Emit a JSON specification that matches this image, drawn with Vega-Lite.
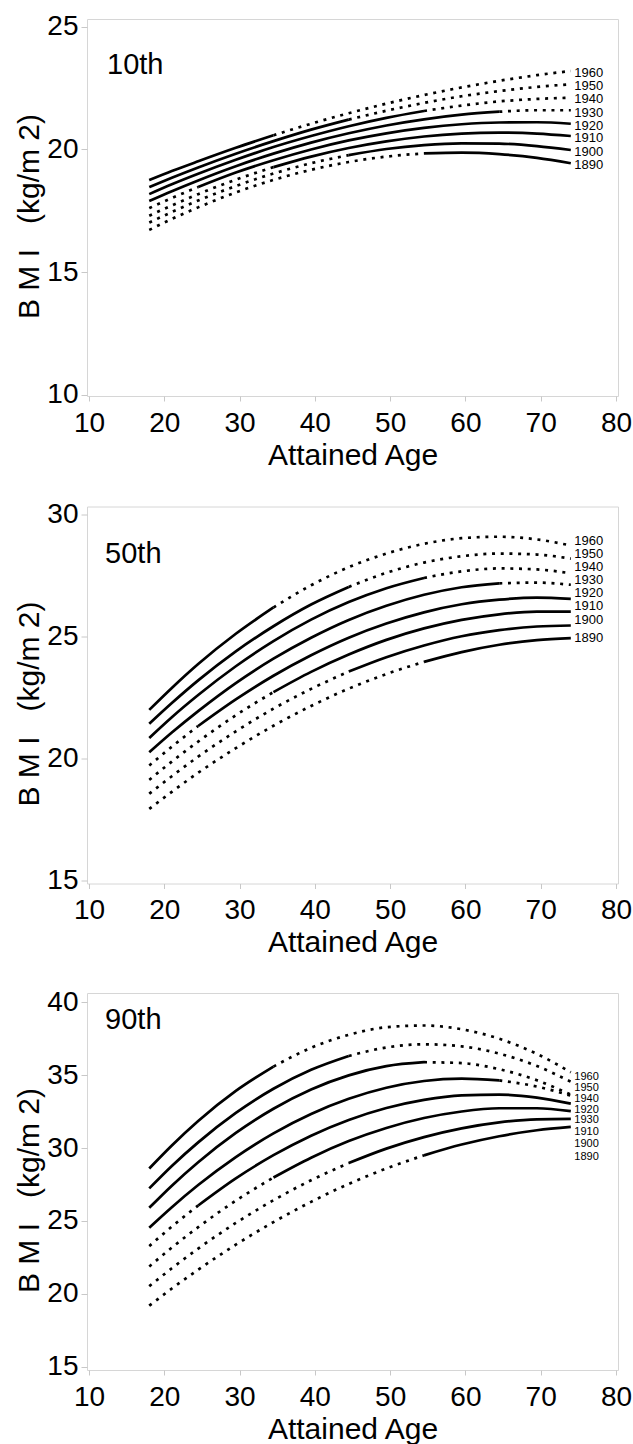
{
"$schema":"https://vega.github.io/schema/vega-lite/v6.json",
"background":"white",
"padding":{"left":14,"top":12,"right":2,"bottom":0},
"spacing":28.5,
"config":{
 "font":"Liberation Sans",
 "view":{"stroke":"#d6d6d6","strokeWidth":1},
 "axis":{"grid":false,"domain":false,"tickColor":"#c8c8c8","labelFontSize":28,"labelColor":"#000","titleFontSize":30,"titleFontWeight":"normal","titleColor":"#000","labelFont":"Liberation Sans","titleFont":"Liberation Sans","labelFlush":false,"labelOverlap":false},
 "axisX":{"tickSize":5,"labelPadding":8,"titlePadding":3},
 "axisY":{"tickSize":6,"labelPadding":3,"titlePadding":2,"titleY":197}
},
"datasets":{
 "curves":[
{"p":"10th","c":1960,"a":18,"v":18.75},{"p":"10th","c":1960,"a":21,"v":19.12},{"p":"10th","c":1960,"a":24.5,"v":19.52},{"p":"10th","c":1960,"a":29.5,"v":20.07},{"p":"10th","c":1960,"a":34.5,"v":20.58},{"p":"10th","c":1960,"a":39.5,"v":21.05},{"p":"10th","c":1960,"a":44.5,"v":21.48},{"p":"10th","c":1960,"a":49.5,"v":21.87},{"p":"10th","c":1960,"a":54.5,"v":22.22},{"p":"10th","c":1960,"a":59.5,"v":22.53},{"p":"10th","c":1960,"a":64.5,"v":22.80},{"p":"10th","c":1960,"a":69.5,"v":23.03},{"p":"10th","c":1960,"a":74,"v":23.20},
{"p":"10th","c":1950,"a":18,"v":18.47},{"p":"10th","c":1950,"a":21,"v":18.85},{"p":"10th","c":1950,"a":24.5,"v":19.27},{"p":"10th","c":1950,"a":29.5,"v":19.83},{"p":"10th","c":1950,"a":34.5,"v":20.34},{"p":"10th","c":1950,"a":39.5,"v":20.81},{"p":"10th","c":1950,"a":44.5,"v":21.22},{"p":"10th","c":1950,"a":49.5,"v":21.58},{"p":"10th","c":1950,"a":54.5,"v":21.90},{"p":"10th","c":1950,"a":59.5,"v":22.17},{"p":"10th","c":1950,"a":64.5,"v":22.38},{"p":"10th","c":1950,"a":69.5,"v":22.55},{"p":"10th","c":1950,"a":74,"v":22.66},
{"p":"10th","c":1940,"a":18,"v":18.18},{"p":"10th","c":1940,"a":21,"v":18.58},{"p":"10th","c":1940,"a":24.5,"v":19.01},{"p":"10th","c":1940,"a":29.5,"v":19.58},{"p":"10th","c":1940,"a":34.5,"v":20.10},{"p":"10th","c":1940,"a":39.5,"v":20.55},{"p":"10th","c":1940,"a":44.5,"v":20.95},{"p":"10th","c":1940,"a":49.5,"v":21.29},{"p":"10th","c":1940,"a":54.5,"v":21.57},{"p":"10th","c":1940,"a":59.5,"v":21.79},{"p":"10th","c":1940,"a":64.5,"v":21.96},{"p":"10th","c":1940,"a":69.5,"v":22.06},{"p":"10th","c":1940,"a":74,"v":22.11},
{"p":"10th","c":1930,"a":18,"v":17.90},{"p":"10th","c":1930,"a":21,"v":18.30},{"p":"10th","c":1930,"a":24.5,"v":18.74},{"p":"10th","c":1930,"a":29.5,"v":19.32},{"p":"10th","c":1930,"a":34.5,"v":19.83},{"p":"10th","c":1930,"a":39.5,"v":20.28},{"p":"10th","c":1930,"a":44.5,"v":20.66},{"p":"10th","c":1930,"a":49.5,"v":20.98},{"p":"10th","c":1930,"a":54.5,"v":21.23},{"p":"10th","c":1930,"a":59.5,"v":21.42},{"p":"10th","c":1930,"a":64.5,"v":21.54},{"p":"10th","c":1930,"a":69.5,"v":21.60},{"p":"10th","c":1930,"a":74,"v":21.60},
{"p":"10th","c":1920,"a":18,"v":17.61},{"p":"10th","c":1920,"a":21,"v":18.02},{"p":"10th","c":1920,"a":24.5,"v":18.47},{"p":"10th","c":1920,"a":29.5,"v":19.06},{"p":"10th","c":1920,"a":34.5,"v":19.56},{"p":"10th","c":1920,"a":39.5,"v":20.00},{"p":"10th","c":1920,"a":44.5,"v":20.37},{"p":"10th","c":1920,"a":49.5,"v":20.66},{"p":"10th","c":1920,"a":54.5,"v":20.88},{"p":"10th","c":1920,"a":59.5,"v":21.03},{"p":"10th","c":1920,"a":64.5,"v":21.10},{"p":"10th","c":1920,"a":69.5,"v":21.11},{"p":"10th","c":1920,"a":74,"v":21.05},
{"p":"10th","c":1910,"a":18,"v":17.30},{"p":"10th","c":1910,"a":21,"v":17.72},{"p":"10th","c":1910,"a":24.5,"v":18.18},{"p":"10th","c":1910,"a":29.5,"v":18.77},{"p":"10th","c":1910,"a":34.5,"v":19.28},{"p":"10th","c":1910,"a":39.5,"v":19.71},{"p":"10th","c":1910,"a":44.5,"v":20.06},{"p":"10th","c":1910,"a":49.5,"v":20.33},{"p":"10th","c":1910,"a":54.5,"v":20.53},{"p":"10th","c":1910,"a":59.5,"v":20.65},{"p":"10th","c":1910,"a":64.5,"v":20.69},{"p":"10th","c":1910,"a":69.5,"v":20.65},{"p":"10th","c":1910,"a":74,"v":20.55},
{"p":"10th","c":1900,"a":18,"v":17.02},{"p":"10th","c":1900,"a":21,"v":17.45},{"p":"10th","c":1900,"a":24.5,"v":17.92},{"p":"10th","c":1900,"a":29.5,"v":18.51},{"p":"10th","c":1900,"a":34.5,"v":19.02},{"p":"10th","c":1900,"a":39.5,"v":19.44},{"p":"10th","c":1900,"a":44.5,"v":19.77},{"p":"10th","c":1900,"a":49.5,"v":20.02},{"p":"10th","c":1900,"a":54.5,"v":20.18},{"p":"10th","c":1900,"a":59.5,"v":20.25},{"p":"10th","c":1900,"a":64.5,"v":20.24},{"p":"10th","c":1900,"a":69.5,"v":20.14},{"p":"10th","c":1900,"a":74,"v":19.98},
{"p":"10th","c":1890,"a":18,"v":16.72},{"p":"10th","c":1890,"a":21,"v":17.17},{"p":"10th","c":1890,"a":24.5,"v":17.64},{"p":"10th","c":1890,"a":29.5,"v":18.25},{"p":"10th","c":1890,"a":34.5,"v":18.76},{"p":"10th","c":1890,"a":39.5,"v":19.17},{"p":"10th","c":1890,"a":44.5,"v":19.49},{"p":"10th","c":1890,"a":49.5,"v":19.71},{"p":"10th","c":1890,"a":54.5,"v":19.84},{"p":"10th","c":1890,"a":59.5,"v":19.87},{"p":"10th","c":1890,"a":64.5,"v":19.81},{"p":"10th","c":1890,"a":69.5,"v":19.66},{"p":"10th","c":1890,"a":74,"v":19.44},
{"p":"50th","c":1960,"a":18,"v":22.00},{"p":"50th","c":1960,"a":21,"v":22.90},{"p":"50th","c":1960,"a":24.5,"v":23.88},{"p":"50th","c":1960,"a":29.5,"v":25.12},{"p":"50th","c":1960,"a":34.5,"v":26.20},{"p":"50th","c":1960,"a":39.5,"v":27.11},{"p":"50th","c":1960,"a":44.5,"v":27.85},{"p":"50th","c":1960,"a":49.5,"v":28.41},{"p":"50th","c":1960,"a":54.5,"v":28.81},{"p":"50th","c":1960,"a":59.5,"v":29.04},{"p":"50th","c":1960,"a":64.5,"v":29.10},{"p":"50th","c":1960,"a":69.5,"v":28.99},{"p":"50th","c":1960,"a":74,"v":28.74},
{"p":"50th","c":1950,"a":18,"v":21.43},{"p":"50th","c":1950,"a":21,"v":22.28},{"p":"50th","c":1950,"a":24.5,"v":23.21},{"p":"50th","c":1950,"a":29.5,"v":24.40},{"p":"50th","c":1950,"a":34.5,"v":25.43},{"p":"50th","c":1950,"a":39.5,"v":26.32},{"p":"50th","c":1950,"a":44.5,"v":27.04},{"p":"50th","c":1950,"a":49.5,"v":27.62},{"p":"50th","c":1950,"a":54.5,"v":28.04},{"p":"50th","c":1950,"a":59.5,"v":28.30},{"p":"50th","c":1950,"a":64.5,"v":28.41},{"p":"50th","c":1950,"a":69.5,"v":28.37},{"p":"50th","c":1950,"a":74,"v":28.20},
{"p":"50th","c":1940,"a":18,"v":20.85},{"p":"50th","c":1940,"a":21,"v":21.70},{"p":"50th","c":1940,"a":24.5,"v":22.61},{"p":"50th","c":1940,"a":29.5,"v":23.79},{"p":"50th","c":1940,"a":34.5,"v":24.82},{"p":"50th","c":1940,"a":39.5,"v":25.70},{"p":"50th","c":1940,"a":44.5,"v":26.42},{"p":"50th","c":1940,"a":49.5,"v":26.99},{"p":"50th","c":1940,"a":54.5,"v":27.41},{"p":"50th","c":1940,"a":59.5,"v":27.68},{"p":"50th","c":1940,"a":64.5,"v":27.80},{"p":"50th","c":1940,"a":69.5,"v":27.76},{"p":"50th","c":1940,"a":74,"v":27.60},
{"p":"50th","c":1930,"a":18,"v":20.26},{"p":"50th","c":1930,"a":21,"v":21.07},{"p":"50th","c":1930,"a":24.5,"v":21.95},{"p":"50th","c":1930,"a":29.5,"v":23.10},{"p":"50th","c":1930,"a":34.5,"v":24.10},{"p":"50th","c":1930,"a":39.5,"v":24.96},{"p":"50th","c":1930,"a":44.5,"v":25.69},{"p":"50th","c":1930,"a":49.5,"v":26.27},{"p":"50th","c":1930,"a":54.5,"v":26.72},{"p":"50th","c":1930,"a":59.5,"v":27.03},{"p":"50th","c":1930,"a":64.5,"v":27.19},{"p":"50th","c":1930,"a":69.5,"v":27.22},{"p":"50th","c":1930,"a":74,"v":27.13},
{"p":"50th","c":1920,"a":18,"v":19.72},{"p":"50th","c":1920,"a":21,"v":20.49},{"p":"50th","c":1920,"a":24.5,"v":21.34},{"p":"50th","c":1920,"a":29.5,"v":22.43},{"p":"50th","c":1920,"a":34.5,"v":23.40},{"p":"50th","c":1920,"a":39.5,"v":24.24},{"p":"50th","c":1920,"a":44.5,"v":24.96},{"p":"50th","c":1920,"a":49.5,"v":25.54},{"p":"50th","c":1920,"a":54.5,"v":26.00},{"p":"50th","c":1920,"a":59.5,"v":26.33},{"p":"50th","c":1920,"a":64.5,"v":26.52},{"p":"50th","c":1920,"a":69.5,"v":26.60},{"p":"50th","c":1920,"a":74,"v":26.55},
{"p":"50th","c":1910,"a":18,"v":19.13},{"p":"50th","c":1910,"a":21,"v":19.88},{"p":"50th","c":1910,"a":24.5,"v":20.70},{"p":"50th","c":1910,"a":29.5,"v":21.78},{"p":"50th","c":1910,"a":34.5,"v":22.73},{"p":"50th","c":1910,"a":39.5,"v":23.56},{"p":"50th","c":1910,"a":44.5,"v":24.27},{"p":"50th","c":1910,"a":49.5,"v":24.87},{"p":"50th","c":1910,"a":54.5,"v":25.34},{"p":"50th","c":1910,"a":59.5,"v":25.69},{"p":"50th","c":1910,"a":64.5,"v":25.92},{"p":"50th","c":1910,"a":69.5,"v":26.03},{"p":"50th","c":1910,"a":74,"v":26.03},
{"p":"50th","c":1900,"a":18,"v":18.56},{"p":"50th","c":1900,"a":21,"v":19.28},{"p":"50th","c":1900,"a":24.5,"v":20.08},{"p":"50th","c":1900,"a":29.5,"v":21.12},{"p":"50th","c":1900,"a":34.5,"v":22.05},{"p":"50th","c":1900,"a":39.5,"v":22.86},{"p":"50th","c":1900,"a":44.5,"v":23.57},{"p":"50th","c":1900,"a":49.5,"v":24.16},{"p":"50th","c":1900,"a":54.5,"v":24.64},{"p":"50th","c":1900,"a":59.5,"v":25.02},{"p":"50th","c":1900,"a":64.5,"v":25.27},{"p":"50th","c":1900,"a":69.5,"v":25.42},{"p":"50th","c":1900,"a":74,"v":25.46},
{"p":"50th","c":1890,"a":18,"v":17.94},{"p":"50th","c":1890,"a":21,"v":18.64},{"p":"50th","c":1890,"a":24.5,"v":19.42},{"p":"50th","c":1890,"a":29.5,"v":20.43},{"p":"50th","c":1890,"a":34.5,"v":21.35},{"p":"50th","c":1890,"a":39.5,"v":22.16},{"p":"50th","c":1890,"a":44.5,"v":22.87},{"p":"50th","c":1890,"a":49.5,"v":23.47},{"p":"50th","c":1890,"a":54.5,"v":23.97},{"p":"50th","c":1890,"a":59.5,"v":24.37},{"p":"50th","c":1890,"a":64.5,"v":24.67},{"p":"50th","c":1890,"a":69.5,"v":24.86},{"p":"50th","c":1890,"a":74,"v":24.94},
{"p":"90th","c":1960,"a":18,"v":28.60},{"p":"90th","c":1960,"a":21,"v":30.18},{"p":"90th","c":1960,"a":24.5,"v":31.86},{"p":"90th","c":1960,"a":29.5,"v":33.92},{"p":"90th","c":1960,"a":34.5,"v":35.59},{"p":"90th","c":1960,"a":39.5,"v":36.88},{"p":"90th","c":1960,"a":44.5,"v":37.77},{"p":"90th","c":1960,"a":49.5,"v":38.29},{"p":"90th","c":1960,"a":54.5,"v":38.41},{"p":"90th","c":1960,"a":59.5,"v":38.15},{"p":"90th","c":1960,"a":64.5,"v":37.50},{"p":"90th","c":1960,"a":69.5,"v":36.46},{"p":"90th","c":1960,"a":74,"v":35.20},
{"p":"90th","c":1950,"a":18,"v":27.23},{"p":"90th","c":1950,"a":21,"v":28.77},{"p":"90th","c":1950,"a":24.5,"v":30.39},{"p":"90th","c":1950,"a":29.5,"v":32.41},{"p":"90th","c":1950,"a":34.5,"v":34.07},{"p":"90th","c":1950,"a":39.5,"v":35.37},{"p":"90th","c":1950,"a":44.5,"v":36.32},{"p":"90th","c":1950,"a":49.5,"v":36.90},{"p":"90th","c":1950,"a":54.5,"v":37.12},{"p":"90th","c":1950,"a":59.5,"v":36.98},{"p":"90th","c":1950,"a":64.5,"v":36.48},{"p":"90th","c":1950,"a":69.5,"v":35.63},{"p":"90th","c":1950,"a":74,"v":34.55},
{"p":"90th","c":1940,"a":18,"v":25.90},{"p":"90th","c":1940,"a":21,"v":27.42},{"p":"90th","c":1940,"a":24.5,"v":29.03},{"p":"90th","c":1940,"a":29.5,"v":31.04},{"p":"90th","c":1940,"a":34.5,"v":32.70},{"p":"90th","c":1940,"a":39.5,"v":34.02},{"p":"90th","c":1940,"a":44.5,"v":34.99},{"p":"90th","c":1940,"a":49.5,"v":35.62},{"p":"90th","c":1940,"a":54.5,"v":35.89},{"p":"90th","c":1940,"a":59.5,"v":35.83},{"p":"90th","c":1940,"a":64.5,"v":35.41},{"p":"90th","c":1940,"a":69.5,"v":34.65},{"p":"90th","c":1940,"a":74,"v":33.67},
{"p":"90th","c":1930,"a":18,"v":24.53},{"p":"90th","c":1930,"a":21,"v":25.94},{"p":"90th","c":1930,"a":24.5,"v":27.46},{"p":"90th","c":1930,"a":29.5,"v":29.38},{"p":"90th","c":1930,"a":34.5,"v":31.01},{"p":"90th","c":1930,"a":39.5,"v":32.34},{"p":"90th","c":1930,"a":44.5,"v":33.38},{"p":"90th","c":1930,"a":49.5,"v":34.14},{"p":"90th","c":1930,"a":54.5,"v":34.60},{"p":"90th","c":1930,"a":59.5,"v":34.76},{"p":"90th","c":1930,"a":64.5,"v":34.64},{"p":"90th","c":1930,"a":69.5,"v":34.22},{"p":"90th","c":1930,"a":74,"v":33.60},
{"p":"90th","c":1920,"a":18,"v":23.27},{"p":"90th","c":1920,"a":21,"v":24.61},{"p":"90th","c":1920,"a":24.5,"v":26.06},{"p":"90th","c":1920,"a":29.5,"v":27.92},{"p":"90th","c":1920,"a":34.5,"v":29.51},{"p":"90th","c":1920,"a":39.5,"v":30.85},{"p":"90th","c":1920,"a":44.5,"v":31.93},{"p":"90th","c":1920,"a":49.5,"v":32.75},{"p":"90th","c":1920,"a":54.5,"v":33.31},{"p":"90th","c":1920,"a":59.5,"v":33.62},{"p":"90th","c":1920,"a":64.5,"v":33.67},{"p":"90th","c":1920,"a":69.5,"v":33.46},{"p":"90th","c":1920,"a":74,"v":33.05},
{"p":"90th","c":1910,"a":18,"v":21.87},{"p":"90th","c":1910,"a":21,"v":23.17},{"p":"90th","c":1910,"a":24.5,"v":24.57},{"p":"90th","c":1910,"a":29.5,"v":26.39},{"p":"90th","c":1910,"a":34.5,"v":27.98},{"p":"90th","c":1910,"a":39.5,"v":29.34},{"p":"90th","c":1910,"a":44.5,"v":30.48},{"p":"90th","c":1910,"a":49.5,"v":31.38},{"p":"90th","c":1910,"a":54.5,"v":32.06},{"p":"90th","c":1910,"a":59.5,"v":32.51},{"p":"90th","c":1910,"a":64.5,"v":32.73},{"p":"90th","c":1910,"a":69.5,"v":32.73},{"p":"90th","c":1910,"a":74,"v":32.53},
{"p":"90th","c":1900,"a":18,"v":20.52},{"p":"90th","c":1900,"a":21,"v":21.75},{"p":"90th","c":1900,"a":24.5,"v":23.10},{"p":"90th","c":1900,"a":29.5,"v":24.86},{"p":"90th","c":1900,"a":34.5,"v":26.42},{"p":"90th","c":1900,"a":39.5,"v":27.79},{"p":"90th","c":1900,"a":44.5,"v":28.97},{"p":"90th","c":1900,"a":49.5,"v":29.96},{"p":"90th","c":1900,"a":54.5,"v":30.75},{"p":"90th","c":1900,"a":59.5,"v":31.35},{"p":"90th","c":1900,"a":64.5,"v":31.76},{"p":"90th","c":1900,"a":69.5,"v":31.97},{"p":"90th","c":1900,"a":74,"v":32.00},
{"p":"90th","c":1890,"a":18,"v":19.18},{"p":"90th","c":1890,"a":21,"v":20.36},{"p":"90th","c":1890,"a":24.5,"v":21.65},{"p":"90th","c":1890,"a":29.5,"v":23.37},{"p":"90th","c":1890,"a":34.5,"v":24.92},{"p":"90th","c":1890,"a":39.5,"v":26.31},{"p":"90th","c":1890,"a":44.5,"v":27.54},{"p":"90th","c":1890,"a":49.5,"v":28.60},{"p":"90th","c":1890,"a":54.5,"v":29.50},{"p":"90th","c":1890,"a":59.5,"v":30.24},{"p":"90th","c":1890,"a":64.5,"v":30.81},{"p":"90th","c":1890,"a":69.5,"v":31.22},{"p":"90th","c":1890,"a":74,"v":31.45}
 ],
 "labels":[
{"p":"10th","t":"1960","a":74,"v":23.13},{"p":"10th","t":"1950","a":74,"v":22.59},{"p":"10th","t":"1940","a":74,"v":22.04},{"p":"10th","t":"1930","a":74,"v":21.50},{"p":"10th","t":"1920","a":74,"v":20.96},{"p":"10th","t":"1910","a":74,"v":20.45},{"p":"10th","t":"1900","a":74,"v":19.91},{"p":"10th","t":"1890","a":74,"v":19.37},
{"p":"50th","t":"1960","a":74,"v":28.92},{"p":"50th","t":"1950","a":74,"v":28.40},{"p":"50th","t":"1940","a":74,"v":27.85},{"p":"50th","t":"1930","a":74,"v":27.31},{"p":"50th","t":"1920","a":74,"v":26.78},{"p":"50th","t":"1910","a":74,"v":26.24},{"p":"50th","t":"1900","a":74,"v":25.69},{"p":"50th","t":"1890","a":74,"v":24.94},
{"p":"90th","t":"1960","a":74,"v":34.86},{"p":"90th","t":"1950","a":74,"v":34.13},{"p":"90th","t":"1940","a":74,"v":33.40},{"p":"90th","t":"1920","a":74,"v":32.64},{"p":"90th","t":"1930","a":74,"v":31.91},{"p":"90th","t":"1910","a":74,"v":31.09},{"p":"90th","t":"1900","a":74,"v":30.29},{"p":"90th","t":"1890","a":74,"v":29.40}
 ],
 "tags":[
{"p":"10th","t":"10th","a":12.39,"v":23.08},{"p":"50th","t":"50th","a":12.13,"v":28.04},{"p":"90th","t":"90th","a":12.13,"v":38.20}
 ]
},
"vconcat":[
 {"width":531,"height":377,
  "layer":[
   {"data":{"name":"curves"},"transform":[{"filter":"datum.p=='10th' && (datum.c>=1930 ? datum.a<=1994.5-datum.c : datum.a>=1944.5-datum.c)"}],
    "mark":{"type":"line","color":"#000","strokeWidth":2.7,"interpolate":"monotone"},
    "encoding":{"x":{"field":"a","type":"quantitative","scale":{"domain":[9.73,80.27],"nice":false,"zero":false},"axis":{"values":[10,20,30,40,50,60,70,80],"title":"Attained Age"}},
     "y":{"field":"v","type":"quantitative","scale":{"domain":[9.95,25.32],"nice":false,"zero":false},"axis":{"values":[10,15,20,25],"title":"B\u00a0M\u00a0I\u00a0\u00a0\u00a0(kg/m\u00a02)"}},
     "detail":{"field":"c","type":"nominal"}}},
   {"data":{"name":"curves"},"transform":[{"filter":"datum.p=='10th' && (datum.c>=1930 ? datum.a>=1994.5-datum.c : datum.a<=1944.5-datum.c)"}],
    "mark":{"type":"line","color":"#000","strokeWidth":2.7,"strokeDash":[3,5.7],"strokeCap":"butt","interpolate":"monotone"},
    "encoding":{"x":{"field":"a","type":"quantitative","scale":{"domain":[9.73,80.27],"nice":false,"zero":false},"axis":{"values":[10,20,30,40,50,60,70,80],"title":"Attained Age"}},
     "y":{"field":"v","type":"quantitative","scale":{"domain":[9.95,25.32],"nice":false,"zero":false},"axis":{"values":[10,15,20,25],"title":"B\u00a0M\u00a0I\u00a0\u00a0\u00a0(kg/m\u00a02)"}},
     "detail":{"field":"c","type":"nominal"}}},
   {"data":{"name":"labels"},"transform":[{"filter":"datum.p=='10th'"}],
    "mark":{"type":"text","align":"left","baseline":"middle","dx":3.5,"fontSize":13,"color":"#000"},
    "encoding":{"x":{"field":"a","type":"quantitative"},"y":{"field":"v","type":"quantitative"},"text":{"field":"t"}}},
   {"data":{"name":"tags"},"transform":[{"filter":"datum.p=='10th'"}],
    "mark":{"type":"text","align":"left","baseline":"alphabetic","fontSize":29,"color":"#000"},
    "encoding":{"x":{"field":"a","type":"quantitative"},"y":{"field":"v","type":"quantitative"},"text":{"field":"t"}}}
  ]},
 {"width":531,"height":377,
  "layer":[
   {"data":{"name":"curves"},"transform":[{"filter":"datum.p=='50th' && (datum.c>=1930 ? datum.a<=1994.5-datum.c : datum.a>=1944.5-datum.c)"}],
    "mark":{"type":"line","color":"#000","strokeWidth":2.7,"interpolate":"monotone"},
    "encoding":{"x":{"field":"a","type":"quantitative","scale":{"domain":[9.73,80.27],"nice":false,"zero":false},"axis":{"values":[10,20,30,40,50,60,70,80],"title":"Attained Age"}},
     "y":{"field":"v","type":"quantitative","scale":{"domain":[14.88,30.34],"nice":false,"zero":false},"axis":{"values":[15,20,25,30],"title":"B\u00a0M\u00a0I\u00a0\u00a0\u00a0(kg/m\u00a02)"}},
     "detail":{"field":"c","type":"nominal"}}},
   {"data":{"name":"curves"},"transform":[{"filter":"datum.p=='50th' && (datum.c>=1930 ? datum.a>=1994.5-datum.c : datum.a<=1944.5-datum.c)"}],
    "mark":{"type":"line","color":"#000","strokeWidth":2.7,"strokeDash":[3,5.7],"strokeCap":"butt","interpolate":"monotone"},
    "encoding":{"x":{"field":"a","type":"quantitative","scale":{"domain":[9.73,80.27],"nice":false,"zero":false},"axis":{"values":[10,20,30,40,50,60,70,80],"title":"Attained Age"}},
     "y":{"field":"v","type":"quantitative","scale":{"domain":[14.88,30.34],"nice":false,"zero":false},"axis":{"values":[15,20,25,30],"title":"B\u00a0M\u00a0I\u00a0\u00a0\u00a0(kg/m\u00a02)"}},
     "detail":{"field":"c","type":"nominal"}}},
   {"data":{"name":"labels"},"transform":[{"filter":"datum.p=='50th'"}],
    "mark":{"type":"text","align":"left","baseline":"middle","dx":3.5,"fontSize":13,"color":"#000"},
    "encoding":{"x":{"field":"a","type":"quantitative"},"y":{"field":"v","type":"quantitative"},"text":{"field":"t"}}},
   {"data":{"name":"tags"},"transform":[{"filter":"datum.p=='50th'"}],
    "mark":{"type":"text","align":"left","baseline":"alphabetic","fontSize":29,"color":"#000"},
    "encoding":{"x":{"field":"a","type":"quantitative"},"y":{"field":"v","type":"quantitative"},"text":{"field":"t"}}}
  ]},
 {"width":531,"height":377,
  "layer":[
   {"data":{"name":"curves"},"transform":[{"filter":"datum.p=='90th' && (datum.c>=1930 ? datum.a<=1994.5-datum.c : datum.a>=1944.5-datum.c)"}],
    "mark":{"type":"line","color":"#000","strokeWidth":2.7,"interpolate":"monotone"},
    "encoding":{"x":{"field":"a","type":"quantitative","scale":{"domain":[9.73,80.27],"nice":false,"zero":false},"axis":{"values":[10,20,30,40,50,60,70,80],"title":"Attained Age"}},
     "y":{"field":"v","type":"quantitative","scale":{"domain":[14.77,40.64],"nice":false,"zero":false},"axis":{"values":[15,20,25,30,35,40],"title":"B\u00a0M\u00a0I\u00a0\u00a0\u00a0(kg/m\u00a02)"}},
     "detail":{"field":"c","type":"nominal"}}},
   {"data":{"name":"curves"},"transform":[{"filter":"datum.p=='90th' && (datum.c>=1930 ? datum.a>=1994.5-datum.c : datum.a<=1944.5-datum.c)"}],
    "mark":{"type":"line","color":"#000","strokeWidth":2.7,"strokeDash":[3,5.7],"strokeCap":"butt","interpolate":"monotone"},
    "encoding":{"x":{"field":"a","type":"quantitative","scale":{"domain":[9.73,80.27],"nice":false,"zero":false},"axis":{"values":[10,20,30,40,50,60,70,80],"title":"Attained Age"}},
     "y":{"field":"v","type":"quantitative","scale":{"domain":[14.77,40.64],"nice":false,"zero":false},"axis":{"values":[15,20,25,30,35,40],"title":"B\u00a0M\u00a0I\u00a0\u00a0\u00a0(kg/m\u00a02)"}},
     "detail":{"field":"c","type":"nominal"}}},
   {"data":{"name":"labels"},"transform":[{"filter":"datum.p=='90th'"}],
    "mark":{"type":"text","align":"left","baseline":"middle","dx":3.5,"fontSize":11,"color":"#000"},
    "encoding":{"x":{"field":"a","type":"quantitative"},"y":{"field":"v","type":"quantitative"},"text":{"field":"t"}}},
   {"data":{"name":"tags"},"transform":[{"filter":"datum.p=='90th'"}],
    "mark":{"type":"text","align":"left","baseline":"alphabetic","fontSize":29,"color":"#000"},
    "encoding":{"x":{"field":"a","type":"quantitative"},"y":{"field":"v","type":"quantitative"},"text":{"field":"t"}}}
  ]}
],
"resolve":{"scale":{"x":"independent","y":"independent"}}
}
